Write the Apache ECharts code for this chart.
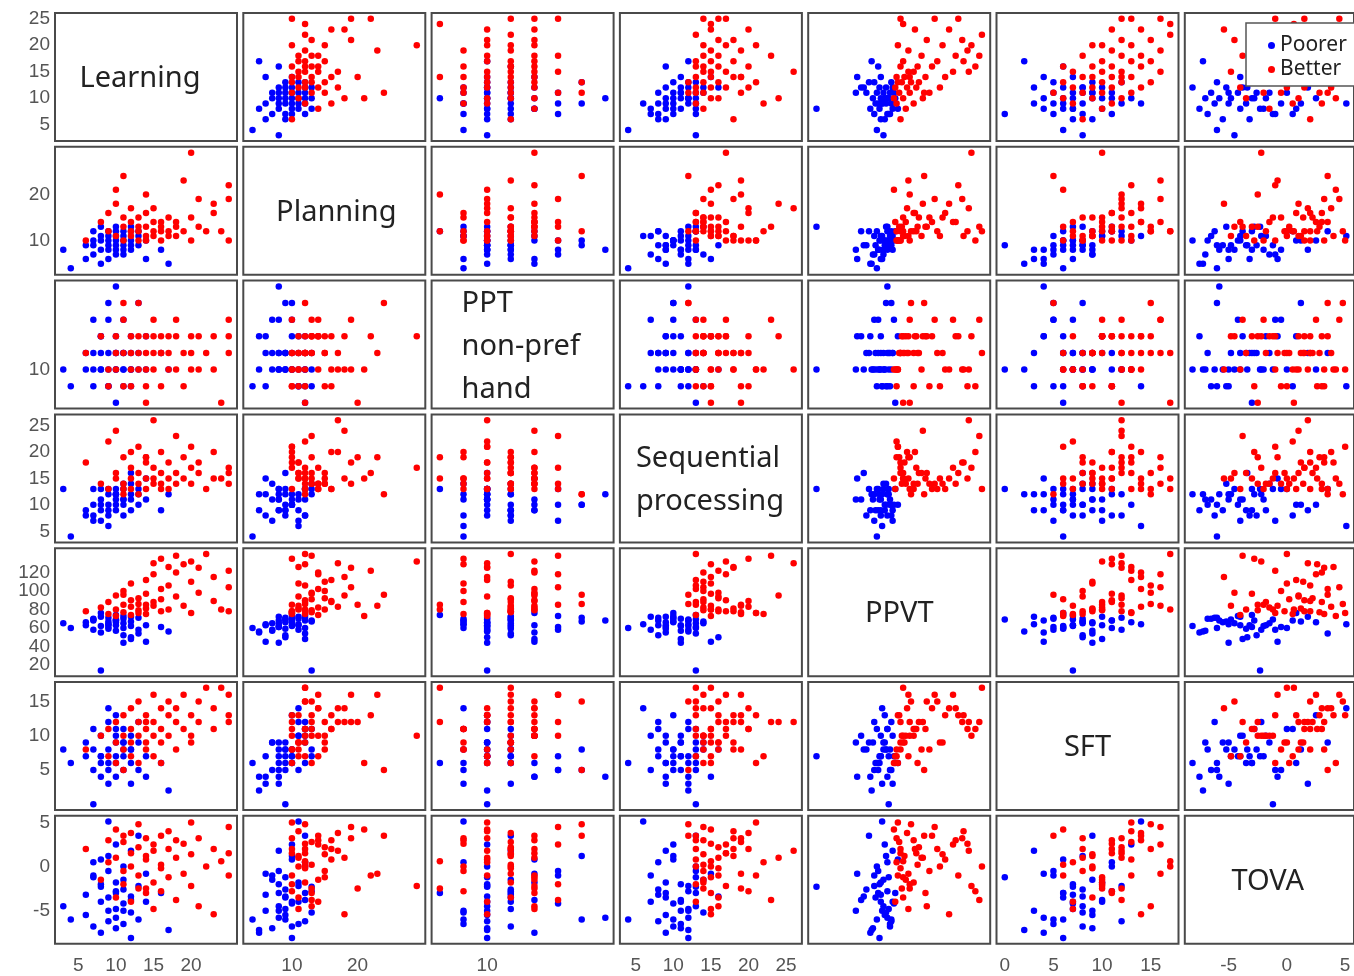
<!DOCTYPE html>
<html><head><meta charset="utf-8">
<script src="https://cdn.jsdelivr.net/npm/echarts@6/dist/echarts.min.js"></script>
<style>html,body{margin:0;padding:0;background:#fff}#c{width:1354px;height:976px}</style>
</head><body><div id="c"></div>
<script>
// ---- data: one entry per subject (44 Poorer, then 52 Better) ----
const varNames = ['Learning', 'Planning', 'PPT\nnon-pref\nhand', 'Sequential\nprocessing', 'PPVT', 'SFT', 'TOVA'];
const groupNames = ['Poorer', 'Better'];
const group = [
  0,0,0,0,0,0,0,0,0,0, 0,0,0,0,0,0,0,0,0,0, 0,0,0,0,0,0,0,0,0,0, 0,0,0,0,0,0,0,0,0,0, 0,0,0,0,
  1,1,1,1,1,1,1,1,1,1, 1,1,1,1,1,1,1,1,1,1, 1,1,1,1,1,1,1,1,1,1, 1,1,1,1,1,1,1,1,1,1, 1,1,1,1,1,1,1,1,1,1, 1,1
];
const learning = [
  3,4,6,6,7,7,7,8,8,8, 8,9,9,9,9,9,10,10,10,10, 10,10,11,11,11,11,11,12,12,12, 12,13,13,13,14,14,16,17,7,9, 10,12,8,11,
  6,8,9,9,10,10,10,11,11,11, 12,12,12,12,13,13,13,13,14,14, 14,14,15,15,15,15,16,16,16,16, 17,17,17,18,18,18,19,19,20,20, 20,21,21,22,23,23,25,25,25,11, 14,24
];
const planning = [
  8,4,6,9,7,10,12,5,8,11, 13,6,9,10,12,8,7,9,11,12, 10,8,9,11,12,10,7,10,12,8, 13,11,9,12,10,6,8,5,9,11, 13,9,10,8,
  10,14,12,16,11,18,21,10,13,15, 12,14,17,11,13,15,10,12,11,13, 16,10,12,14,11,17,12,14,10,13, 11,15,12,13,11,14,23,12,29,10, 15,13,19,12,16,18,10,19,22,24, 20,12
];
const pptNonPref = [
  10,9,11,10,13,11,9,12,10,11, 10,9,11,14,10,13,10,11,12,8, 10,15,11,9,10,13,11,10,12,11, 9,10,14,11,10,12,11,10,10,9, 11,10,12,10,
  11,12,10,9,11,12,10,13,11,9, 12,10,11,9,12,11,10,14,11,12, 10,9,11,13,12,10,11,12,9,11, 10,12,11,13,10,12,11,9,12,10, 11,12,10,11,12,10,11,13,12,14, 8,8
];
const sequential = [
  13,4,8,9,7,10,8,9,11,7, 13,12,9,10,8,13,11,12,9,13, 10,12,8,11,13,10,14,12,11,9, 14,12,10,13,11,15,9,12,13,6, 12,16,10,11,
  18,14,22,13,16,24,15,13,19,14, 17,13,20,15,14,16,21,12,18,15, 13,19,14,17,15,26,16,13,20,14, 18,15,13,23,16,14,19,15,17,21, 14,16,18,13,20,15,17,14,16,12, 19,15
];
const ppvt = [
  65,60,63,66,58,70,68,55,62,72, 14,64,59,67,71,61,57,69,63,74, 66,68,52,70,60,73,65,62,48,72, 67,58,71,54,63,45,61,56,69,64, 68,50,76,44,
  78,82,75,88,80,95,73,85,77,100, 90,74,83,108,79,92,76,86,81,97, 112,75,88,118,84,130,78,102,135,91, 126,80,106,138,94,120,84,129,132,76, 110,98,125,140,89,115,78,104,122,96, 85,80
];
const sft = [
  8,6,7,9,5,8,11,4,7,10, 7,3,6,8,12,5,9,7,10,6, 13,4,8,5,11,7,9,6,10,3, 8,12,5,9,7,4,6,2,0,14, 11,8,6,9,
  8,10,7,11,9,12,6,10,13,8, 11,7,14,9,10,12,6,15,9,11, 13,8,10,16,7,12,9,14,11,6, 13,10,15,12,8,14,16,11,10,13, 9,15,12,17,11,14,12,16,13,5, 12,17
];
const tova = [
  -4.5,-6.0,-3.2,-5.5,-1.0,-6.8,0.5,-7.5,-2.0,-4.0, -2.3,-5.0,-3.5,1.2,-6.2,-0.5,-7.0,-4.8,-1.8,-3.0,
  2.5,-5.8,-2.6,-6.5,0.0,-4.2,-1.5,-8.1,-3.8,1.8, -5.2,-2.2,-6.0,3.5,-4.0,-0.8,-3.0,-7.2,-1.2,5.1, -2.8,-3.4,0.8,-5.0,
  2.0,-1.5,0.5,3.0,-3.5,1.0,4.2,-2.0,2.8,-0.5, 1.5,-4.0,3.8,0.0,-2.5,2.2,-1.0,4.8,1.2,-3.0,
  0.8,3.2,-1.8,2.5,-4.8,1.8,-0.2,3.5,-2.8,0.2, 4.0,-1.2,2.0,-3.8,1.0,3.0,-0.8,2.6,-2.2,5.0,
  1.4,-4.5,3.2,0.0,2.0,-5.4,1.5,4.5,-1.0,3.5, -2.5,0.6
];
// axis ranges and tick labels per variable
const axisMin = [1.9, 2.6, 7.65, 2.9, 7.7, -0.85, -8.76];
const axisMax = [26.1, 30.3, 15.35, 27.1, 146.3, 17.85, 5.76];
const xTickLabels = [[5,10,15,20], [10,20], [10], [5,10,15,20,25], [], [0,5,10,15], [-5,0,5]];
const yTickLabels = [[5,10,15,20,25], [10,20], [10], [5,10,15,20,25], [20,40,60,80,100,120], [5,10,15], [-5,0,5]];

// ---- layout / style ----
const vars = [learning, planning, pptNonPref, sequential, ppvt, sft, tova];
const colors = ['#0000ff', '#ff0000'];
const N = varNames.length;
const L0 = 55, SX = 188.3, GW = 182;
const T0 = 13, SY = 133.8, GH = 128;
const diagDx = [-6, 2, 30, 16, 0, 0, -8]; // label nudges (multi-line: left offset)
const labelFont = {fontSize: 19, color: '#555', fontFamily: 'Liberation Sans'};
const hidden = {axisLine: {show: false}, axisTick: {show: false}, splitLine: {show: false}};

const grid = [], xAxis = [], yAxis = [], extraY = [], series = [], graphic = [];
for (let r = 0; r < N; r++) {
  for (let c = 0; c < N; c++) {
    const g = r * N + c;
    const left = L0 + c * SX, top = T0 + r * SY;
    grid.push({left: left, top: top, width: GW, height: GH, show: true,
      borderColor: '#4a4a4a', borderWidth: 2, backgroundColor: '#fff'});
    xAxis.push(Object.assign({gridIndex: g, type: 'value', min: axisMin[c], max: axisMax[c],
      axisLabel: Object.assign({show: r === N - 1 && xTickLabels[c].length > 0, customValues: xTickLabels[c],
        margin: 12, showMinLabel: true, showMaxLabel: true}, labelFont)}, hidden));
    // left column: tick labels split over two stacked axes so none are culled as overlapping
    const yl = yTickLabels[r];
    const evenL = yl.filter((v, i) => i % 2 === 0), oddL = yl.filter((v, i) => i % 2 === 1);
    yAxis.push(Object.assign({gridIndex: g, type: 'value', min: axisMin[r], max: axisMax[r],
      axisLabel: Object.assign({show: c === 0, customValues: evenL, margin: 5,
        showMinLabel: true, showMaxLabel: true}, labelFont)}, hidden));
    if (c === 0 && oddL.length) {
      extraY.push(Object.assign({gridIndex: g, type: 'value', min: axisMin[r], max: axisMax[r], position: 'left',
        axisLabel: Object.assign({show: true, customValues: oddL, margin: 5,
          showMinLabel: true, showMaxLabel: true}, labelFont)}, hidden));
    }
    if (r === c) {
      const multi = varNames[r].indexOf('\n') >= 0;
      graphic.push({type: 'text', x: multi ? left + diagDx[r] : left + GW / 2 + diagDx[r], y: top + GH / 2 + 2, z: 5,
        style: {text: varNames[r], font: '29px "Noto Sans"', fill: '#222', lineHeight: 43,
          textAlign: multi ? 'left' : 'center', textVerticalAlign: 'middle'}});
      continue;
    }
    for (let k = 0; k < 2; k++) {
      const pts = [];
      for (let i = 0; i < group.length; i++) {
        if (group[i] === k) pts.push([vars[c][i], vars[r][i]]);
      }
      series.push({type: 'scatter', name: groupNames[k], xAxisIndex: g, yAxisIndex: g,
        data: pts, symbolSize: 6.5, itemStyle: {color: colors[k], opacity: 1}, silent: true, z: 2 + k});
    }
  }
}

const chart = echarts.init(document.getElementById('c'), null, {renderer: 'canvas'});
chart.setOption({
  animation: false,
  backgroundColor: '#fff',
  grid, xAxis, yAxis: yAxis.concat(extraY), series, graphic,
  legend: {data: groupNames, orient: 'vertical', left: 1246, top: 23, icon: 'circle',
    itemWidth: 7, itemHeight: 7, itemGap: 3, padding: [12, 20, 6, 22], selectedMode: false,
    borderColor: '#555', borderWidth: 1.5, backgroundColor: '#fff', z: 20,
    textStyle: {fontSize: 21, color: '#222', fontFamily: 'Noto Sans'}}
});
</script></body></html>
